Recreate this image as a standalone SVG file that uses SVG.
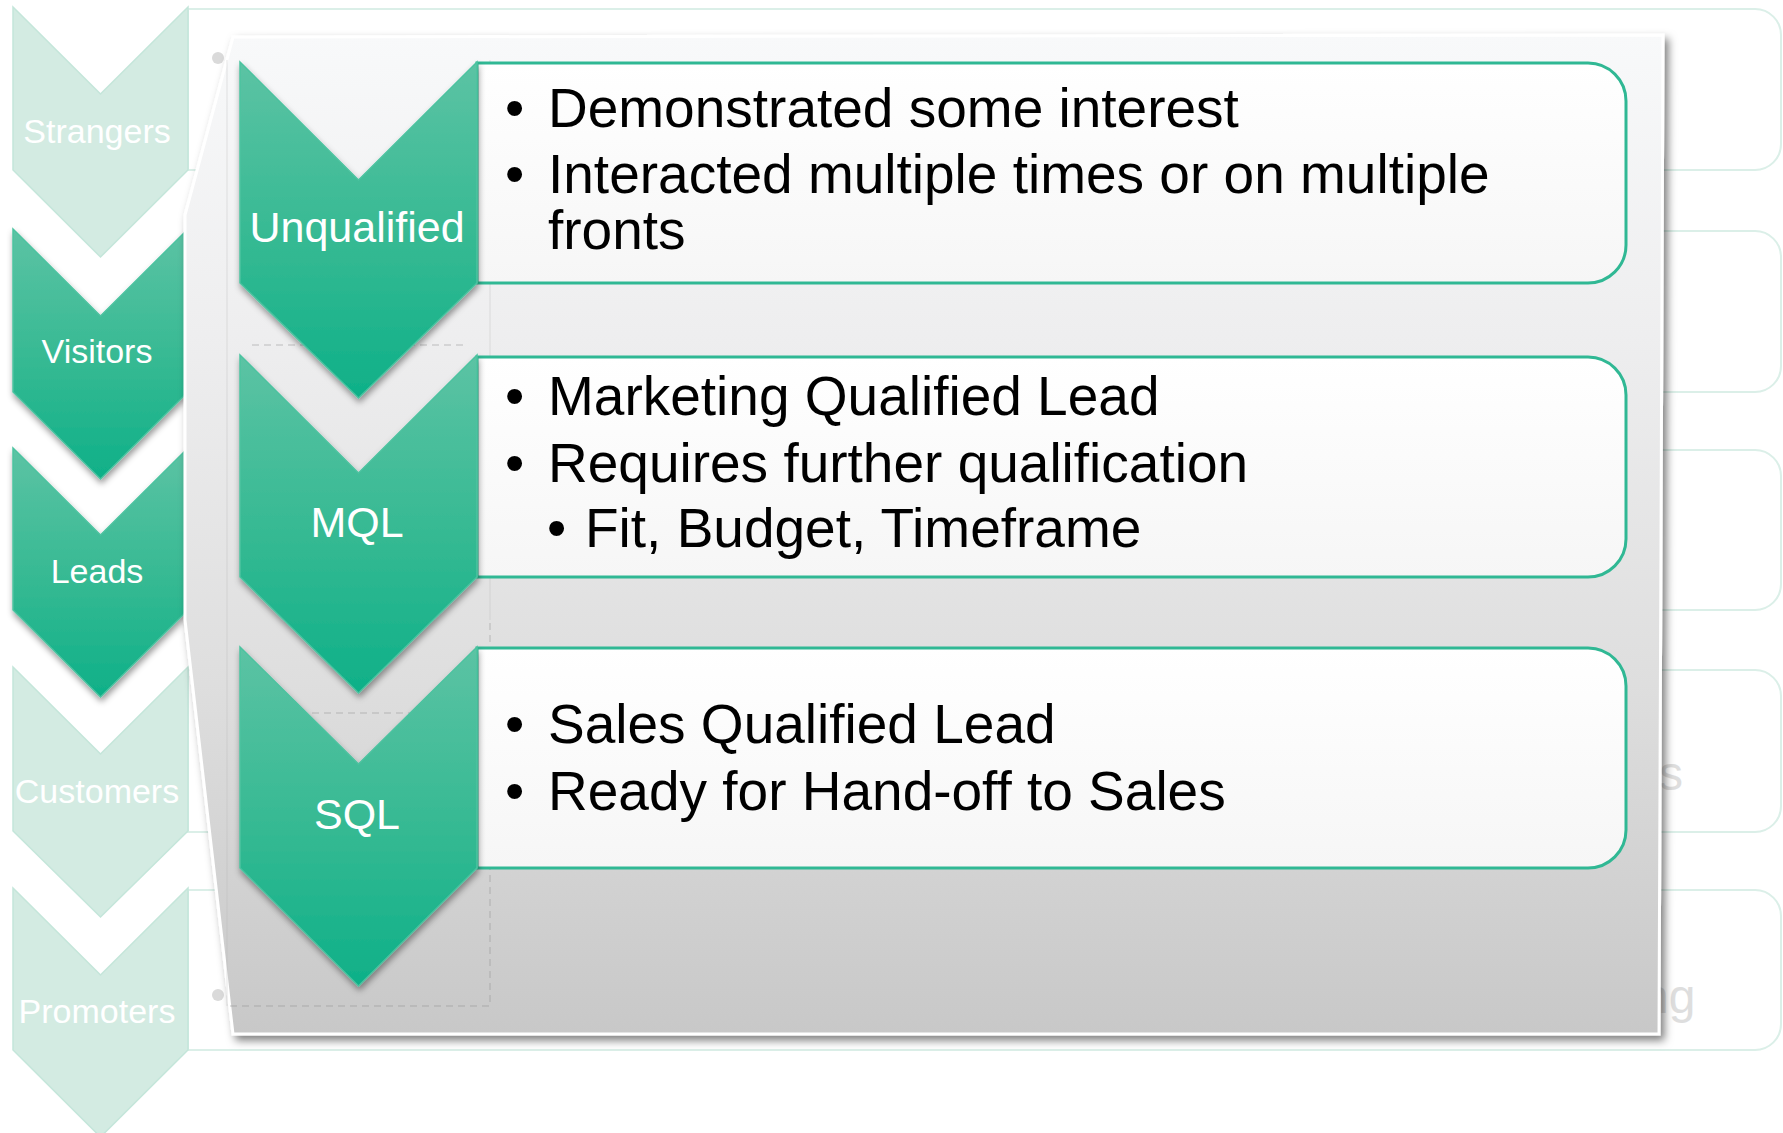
<svg xmlns="http://www.w3.org/2000/svg" width="1783" height="1133" viewBox="0 0 1783 1133">
  <defs>
    <linearGradient id="chevActive" x1="0" y1="0" x2="0" y2="1">
      <stop offset="0" stop-color="#5cc3a4"/>
      <stop offset="0.55" stop-color="#34b992"/>
      <stop offset="1" stop-color="#0eb088"/>
    </linearGradient>
    <linearGradient id="panelFill" x1="0" y1="0" x2="0" y2="1">
      <stop offset="0" stop-color="#f8f9fa"/>
      <stop offset="0.3" stop-color="#eeeeef"/>
      <stop offset="0.65" stop-color="#dedede"/>
      <stop offset="1" stop-color="#c8c8c8"/>
    </linearGradient>
    <linearGradient id="boxFill" x1="0" y1="0" x2="0" y2="1">
      <stop offset="0" stop-color="#ffffff"/>
      <stop offset="1" stop-color="#f6f6f6"/>
    </linearGradient>
    <filter id="chevShadow" x="-20%" y="-20%" width="140%" height="140%">
      <feDropShadow dx="1" dy="4" stdDeviation="3" flood-color="#000" flood-opacity="0.4"/>
    </filter>
    <filter id="panelShadow" x="-10%" y="-10%" width="120%" height="120%">
      <feDropShadow dx="4" dy="5" stdDeviation="4" flood-color="#000" flood-opacity="0.5"/>
    </filter>
    <style>
      .faded-box { fill: #ffffff; stroke: #dbefe8; stroke-width: 2; }
      .chev-faded { fill: #d3ebe2; stroke: #c4e6da; stroke-width: 1.5; }
      .chev-active { fill: url(#chevActive); stroke: #4cc3a0; stroke-width: 1.5; filter: url(#chevShadow); }
      .row-label { font-family: "Liberation Sans", Arial, sans-serif; font-size: 34px; fill: #ffffff; text-anchor: middle; }
      .stage-label { font-family: "Liberation Sans", Arial, sans-serif; font-size: 43px; fill: #ffffff; text-anchor: middle; }
      .stage-box { stroke: #30b894; stroke-width: 3; fill: url(#boxFill); }
      .body { font-family: "Liberation Sans", Arial, sans-serif; font-size: 55px; fill: #000000; }
      .ghost { font-family: "Liberation Sans", Arial, sans-serif; font-size: 48px; fill: #dedede; }
      .ghost-dot { fill: #dadada; }
      .guide { fill: none; stroke: #8c8c8c; stroke-width: 1; stroke-dasharray: 7 5; opacity: 0.5; }
      .guide-faint { fill: none; stroke: #b4b4b4; stroke-width: 1; opacity: 0.35; }
    </style>
  </defs>

  <rect width="1783" height="1133" fill="#ffffff"/>

  <!-- Funnel rows: text box behind, chevron on the left -->
  <g id="row-strangers">
    <path class="faded-box" d="M188,9 H1755 A26,26 0 0 1 1781,35 V144 A26,26 0 0 1 1755,170 H188 Z"/>
    <path class="chev-faded" d="M13,7 L100.5,94 L188,7 L188,170 L100.5,257 L13,170 Z"/>
    <text class="row-label" x="97" y="143">Strangers</text>
  </g>
  <g id="row-visitors">
    <path class="faded-box" d="M188,231 H1755 A26,26 0 0 1 1781,257 V366 A26,26 0 0 1 1755,392 H188 Z"/>
    <path class="chev-active" d="M13,229 L100.5,316 L188,229 L188,392 L100.5,479 L13,392 Z"/>
    <text class="row-label" x="97" y="363">Visitors</text>
  </g>
  <g id="row-leads">
    <path class="faded-box" d="M188,450 H1755 A26,26 0 0 1 1781,476 V584 A26,26 0 0 1 1755,610 H188 Z"/>
    <path class="chev-active" d="M13,448 L100.5,535 L188,448 L188,610 L100.5,697 L13,610 Z"/>
    <text class="row-label" x="97" y="583">Leads</text>
  </g>
  <g id="row-customers">
    <path class="faded-box" d="M188,670 H1755 A26,26 0 0 1 1781,696 V806 A26,26 0 0 1 1755,832 H188 Z"/>
    <path class="chev-faded" d="M13,667 L100.5,754 L188,667 L188,831 L100.5,917 L13,831 Z"/>
    <text class="row-label" x="97" y="803">Customers</text>
    <text class="ghost" x="1659" y="790">s</text>
    <circle class="ghost-dot" cx="218" cy="938" r="6"/>
  </g>
  <g id="row-promoters">
    <path class="faded-box" d="M188,890 H1755 A26,26 0 0 1 1781,916 V1024 A26,26 0 0 1 1755,1050 H188 Z"/>
    <path class="chev-faded" d="M13,888 L100.5,975 L188,888 L188,1050 L100.5,1137 L13,1050 Z"/>
    <text class="row-label" x="97" y="1023">Promoters</text>
    <text class="ghost" x="1642" y="1013">ng</text>
    <circle class="ghost-dot" cx="218" cy="995" r="6"/>
  </g>
  <circle class="ghost-dot" cx="218" cy="58" r="6"/>

  <!-- Enlarged detail panel for the Leads stage -->
  <g id="detail-panel">
    <path d="M233,37 L1663,35 L1659,1034 L233,1034 L185,620 L185,215 Z" fill="url(#panelFill)" stroke="#ffffff" stroke-width="3" filter="url(#panelShadow)"/>

    <!-- layout guides -->
    <path class="guide-faint" d="M227,60 V1006 M490,60 V620"/>
    <path class="guide" d="M252,345 H467 M252,713 H467 M230,1006 H490 V620"/>

    <g id="stage-unqualified">
      <path class="stage-box" d="M477,63 H1588 A38,38 0 0 1 1626,101 V245 A38,38 0 0 1 1588,283 H477 Z"/>
      <path class="chev-active" d="M240,62 L358.5,180 L477,62 L477,283 L358.5,398 L240,283 Z"/>
      <text class="stage-label" x="357" y="242">Unqualified</text>
      <text class="body" x="505" y="127">•</text>
      <text class="body" x="548" y="127">Demonstrated some interest</text>
      <text class="body" x="505" y="193">•</text>
      <text class="body" x="548" y="193">Interacted multiple times or on multiple</text>
      <text class="body" x="548" y="249">fronts</text>
    </g>

    <g id="stage-mql">
      <path class="stage-box" d="M477,357 H1588 A38,38 0 0 1 1626,395 V539 A38,38 0 0 1 1588,577 H477 Z"/>
      <path class="chev-active" d="M240,355 L358.5,473 L477,355 L477,577 L358.5,693 L240,577 Z"/>
      <text class="stage-label" x="357" y="537">MQL</text>
      <text class="body" x="505" y="415">•</text>
      <text class="body" x="548" y="415">Marketing Qualified Lead</text>
      <text class="body" x="505" y="482">•</text>
      <text class="body" x="548" y="482">Requires further qualification</text>
      <text class="body" x="547" y="547">•</text>
      <text class="body" x="585" y="547">Fit, Budget, Timeframe</text>
    </g>

    <g id="stage-sql">
      <path class="stage-box" d="M477,648 H1588 A38,38 0 0 1 1626,686 V830 A38,38 0 0 1 1588,868 H477 Z"/>
      <path class="chev-active" d="M240,647 L358.5,764 L477,647 L477,868 L358.5,986 L240,868 Z"/>
      <text class="stage-label" x="357" y="829">SQL</text>
      <text class="body" x="505" y="743">•</text>
      <text class="body" x="548" y="743">Sales Qualified Lead</text>
      <text class="body" x="505" y="810">•</text>
      <text class="body" x="548" y="810">Ready for Hand-off to Sales</text>
    </g>
  </g>
</svg>
